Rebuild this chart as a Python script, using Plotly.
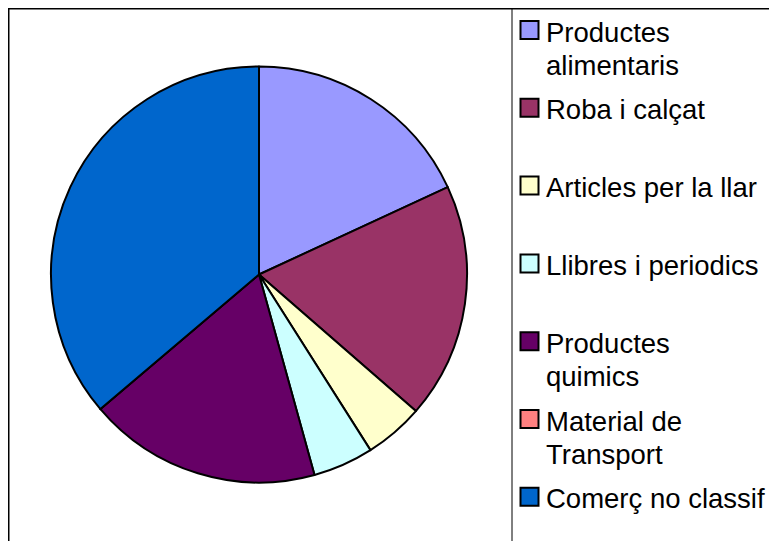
import plotly.graph_objects as go

# ---- data ----
categories = ["Productes alimentaris", "Roba i calçat", "Articles per la llar",
              "Llibres i periodics", "Productes quimics", "Material de Transport",
              "Comerç no classif"]
legend_lines = [["Productes", "alimentaris"], ["Roba i calçat"], ["Articles per la llar"],
                ["Llibres i periodics"], ["Productes", "quimics"], ["Material de", "Transport"],
                ["Comerç no classif"]]
values = [18.1, 18.3, 4.6, 4.7, 18.1, 0.0, 36.2]
colors = ["#9999FF", "#993366", "#FFFFCC", "#CCFFFF", "#660066", "#FF8080", "#0066CC"]

# ---- layout geometry (pixels, page has an 8px body offset) ----
W, H = 777, 541
OFF = 8
cx, cy, R = 259 - OFF, 274.5 - OFF, 208
FONT = "Liberation Sans, Arial, sans-serif"

fig = go.Figure(go.Pie(
    labels=categories, values=values, sort=False, direction="clockwise", rotation=0,
    marker=dict(colors=colors, line=dict(color="black", width=2)),
    textinfo="none", hoverinfo="label+value+percent", showlegend=False,
    domain=dict(x=[(cx - R) / W, (cx + R) / W], y=[(H - cy - R) / H, (H - cy + R) / H]),
))

def px(x):
    return x / W

def py(y):
    return 1 - y / H

shapes = [
    # frame
    dict(type="line", xref="paper", yref="paper", x0=px(0), x1=1, y0=py(0.5), y1=py(0.5),
         line=dict(color="black", width=2)),
    dict(type="line", xref="paper", yref="paper", x0=px(0.5), x1=px(0.5), y0=0, y1=py(0),
         line=dict(color="black", width=2)),
    dict(type="line", xref="paper", yref="paper", x0=px(512 - OFF), x1=px(512 - OFF), y0=0, y1=py(0),
         line=dict(color="black", width=1)),
]
annotations = []
first, step, sq, lh = 30 - OFF, 77.8, 18, 33
sq_x = 520.5 - OFF
txt_x = 543.5 - OFF
for i, (lines, col) in enumerate(zip(legend_lines, colors)):
    yc = first + i * step
    shapes.append(dict(type="rect", xref="paper", yref="paper",
                       x0=px(sq_x), x1=px(sq_x + sq), y0=py(yc - sq / 2), y1=py(yc + sq / 2),
                       fillcolor=col, line=dict(color="black", width=2)))
    for j, line in enumerate(lines):
        annotations.append(dict(xref="paper", yref="paper", x=px(txt_x), y=py(yc + 2 + j * lh),
                                xanchor="left", yanchor="middle", align="left", showarrow=False,
                                text=line, font=dict(family=FONT, size=27.5, color="black")))

fig.update_layout(
    width=W, height=H, margin=dict(l=0, r=0, t=0, b=0),
    paper_bgcolor="white", plot_bgcolor="white",
    shapes=shapes, annotations=annotations,
    font=dict(family=FONT, color="black"),
)
fig.write_html("out.html")
